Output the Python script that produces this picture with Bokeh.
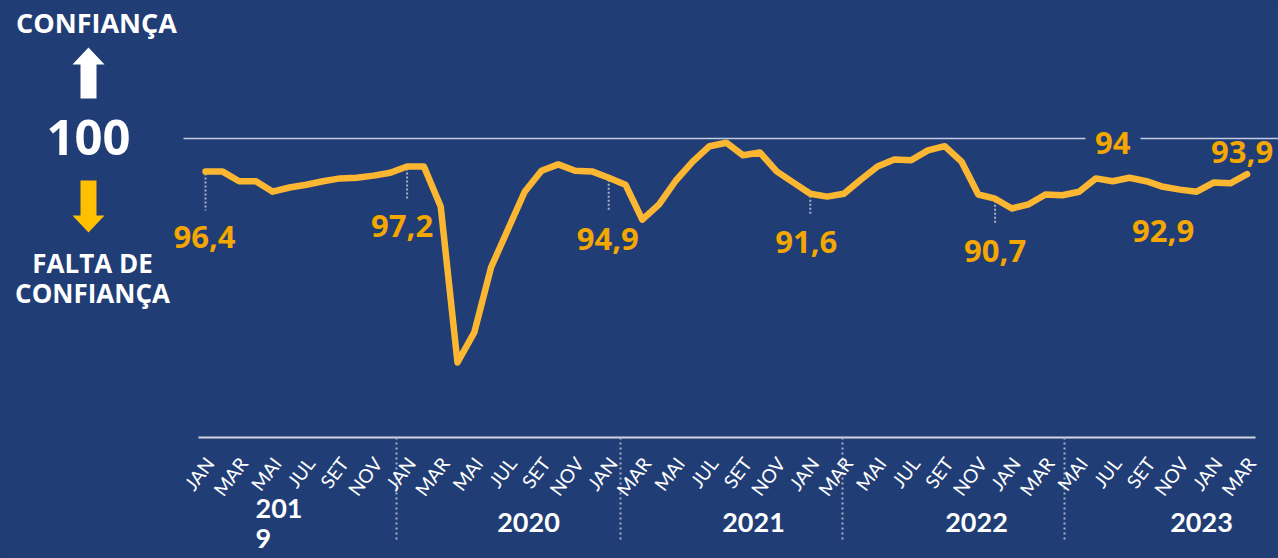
from bokeh.plotting import figure
from bokeh.models import ColumnDataSource, Range1d
from bokeh.core.properties import value
from bokeh.embed import file_html
from bokeh.resources import INLINE

# ---------------- data ----------------
meses = list(range(63))  # Jan 2019 ... Mar 2024 (month index)
indice = [95.3, 95.3, 93.9, 93.9, 92.4, 93.0, 93.4, 93.9, 94.3, 94.4, 94.7, 95.1,
          96.0, 96.0, 90.3, 68.0, 72.3, 81.6, 87.0, 92.4, 95.4, 96.3, 95.4, 95.3,
          94.4, 93.4, 88.4, 90.6, 94.0, 96.7, 98.9, 99.4, 97.6, 98.0, 95.3, 93.7,
          92.1, 91.7, 92.1, 94.1, 96.0, 97.0, 96.9, 98.3, 98.9, 96.7, 92.0, 91.4,
          90.0, 90.6, 92.0, 91.9, 92.4, 94.3, 93.9, 94.4, 93.9, 93.1, 92.7, 92.4,
          93.7, 93.6, 94.9]
rotulos_meses = ["JAN", "MAR", "MAI", "JUL", "SET", "NOV"] * 5 + ["JAN", "MAR"]
rotulos_anos = ["201\n9", "2020", "2021", "2022", "2023"]
destaque_mes = [0, 12, 24, 36, 47, 54, 57, 62]
destaque_txt = ["96,4", "97,2", "94,9", "91,6", "90,7", "94", "92,9", "93,9"]
referencia = 100

# ---------------- layout helpers ----------------
W, H = 1278, 558
X0, DX = 205.0, 16.8      # pixel of month 0, pixels per month
Y100, DY = 138.0, 7.0     # pixel of value 100, pixels per unit

def px_x(px):
    return (px - X0) / DX

def px_y(py):
    return referencia - (py - Y100) / DY

BG = "#213d76"
LINE = "#fbb731"
LBL = "#f3a700"
GRAYDOT = "#a9b1c4"

p = figure(width=W, height=H, output_backend="svg", toolbar_location=None,
           x_range=Range1d(px_x(0), px_x(W)), y_range=Range1d(px_y(H), px_y(0)),
           x_axis_type=None, y_axis_type=None, min_border=0,
           background_fill_color=BG, border_fill_color=BG, outline_line_color=None)
p.grid.visible = False

# reference line at 100 (with a gap for the "94" label)
p.segment(x0=[px_x(183), px_x(1140)], y0=[referencia, referencia],
          x1=[px_x(1085), px_x(W)], y1=[referencia, referencia],
          line_color="#c3cbe0", line_width=1.5)

# x axis line
p.segment(x0=[px_x(198)], y0=[px_y(437)], x1=[px_x(1255)], y1=[px_y(437)],
          line_color="#d3d7e2", line_width=2)

# year dividers
div_px = [396, 620, 842, 1064]
p.segment(x0=[px_x(d) for d in div_px], y0=[px_y(437)] * 4,
          x1=[px_x(d) for d in div_px], y1=[px_y(541)] * 4,
          line_color=GRAYDOT, line_width=2, line_dash="2 3")

# month tick labels (every two months)
tick_x = [m + 4.0 / DX for m in meses[::2]]
p.text(x=tick_x, y=[px_y(459)] * len(rotulos_meses), text=rotulos_meses,
       angle=0.92, text_align="right", text_baseline="middle",
       text_color="white", text_font=value("Lato"), text_font_size="19px")

# year labels
ano_x = [px_x(255), px_x(528), px_x(753), px_x(976), px_x(1201)]
ano_align = ["left", "center", "center", "center", "center"]
p.text(x=ano_x, y=[px_y(522)] * 5, text=rotulos_anos, text_align=ano_align,
       text_baseline="middle", text_color="white", text_font=value("Lato"),
       text_font_style="bold", text_font_size="27px", text_line_height=0.92)

# highlight connectors and labels
lbl_dx = [-1, -5, -1, -4, 0, 0, 0, -5]
lbl_dy = [66, 59, 61, 48, 52, -38, 44, -22]
conn = [0, 1, 2, 3, 4]
p.segment(x0=[destaque_mes[i] for i in conn],
          y0=[indice[destaque_mes[i]] - 2 / DY for i in conn],
          x1=[destaque_mes[i] for i in conn],
          y1=[indice[destaque_mes[i]] - (lbl_dy[i] - 27) / DY for i in conn],
          line_color=GRAYDOT, line_width=2, line_dash="2 2")

# main series
p.line(x=meses, y=indice, line_color=LINE, line_width=6.5,
       line_join="round", line_cap="round")

src = ColumnDataSource(dict(x=destaque_mes, y=[indice[m] for m in destaque_mes],
                            t=destaque_txt, dx=lbl_dx, dy=lbl_dy))
p.text(x="x", y="y", text="t", x_offset="dx", y_offset="dy", source=src,
       text_align="center", text_baseline="middle", text_color=LBL,
       text_font=value("Open Sans"), text_font_style="bold", text_font_size="31px")

# left legend panel
p.text(x=[px_x(96)], y=[px_y(22)], text=["CONFIANÇA"], text_align="center",
       text_baseline="middle", text_color="white", text_font=value("Open Sans"),
       text_font_style="bold", text_font_size="27px")
p.text(x=[px_x(88)], y=[px_y(137)], text=["100"], text_align="center",
       text_baseline="middle", text_color="white", text_font=value("Open Sans"),
       text_font_style="bold", text_font_size="49px")
p.text(x=[px_x(92), px_x(92)], y=[px_y(262), px_y(292)],
       text=["FALTA DE", "CONFIANÇA"], text_align="center",
       text_baseline="middle", text_color="white", text_font=value("Open Sans"),
       text_font_style="bold", text_font_size="26px")

up = [(88, 47), (104, 64), (96, 64), (96, 98), (80, 98), (80, 64), (72, 64)]
down = [(80, 180), (96, 180), (96, 215), (104, 215), (88, 232), (72, 215), (80, 215)]
p.patch(x=[px_x(a) for a, b in up], y=[px_y(b) for a, b in up],
        fill_color="white", line_color=None)
p.patch(x=[px_x(a) for a, b in down], y=[px_y(b) for a, b in down],
        fill_color="#ffc000", line_color=None)

html = file_html(p, INLINE)
html = html.replace("<head>", "<head><style>html,body{margin:0;padding:0;background:%s;overflow:hidden}</style>" % BG, 1)
open("out.html", "w").write(html)
